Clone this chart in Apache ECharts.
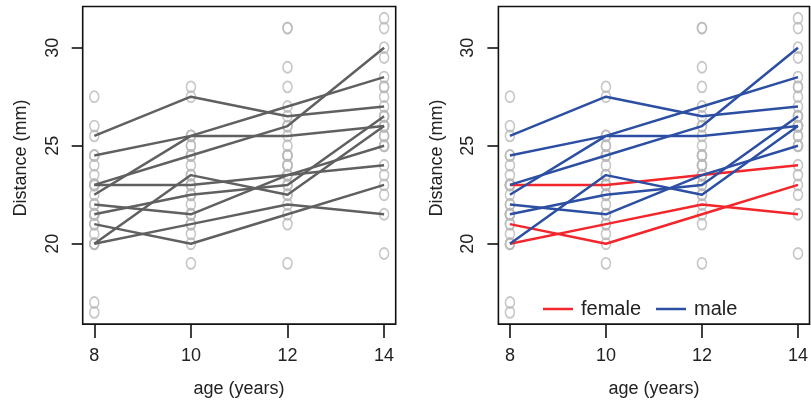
<!DOCTYPE html>
<html>
<head>
<meta charset="utf-8">
<script src="https://cdn.jsdelivr.net/npm/echarts@6/dist/echarts.min.js"></script>
<style>
  html, body { margin: 0; padding: 0; background: #fff; }
  #chart { width: 811px; height: 408px; }
</style>
</head>
<body>
<div id="chart"></div>
<script>
// Orthodont growth data: distance (mm) from pituitary to pterygomaxillary fissure
const ages = [8, 10, 12, 14];
const ageTicks = [8, 10, 12, 14];
const distanceTicks = [20, 25, 30];

const maleIds = ['M01','M02','M03','M04','M05','M06','M07','M08',
                 'M09','M10','M11','M12','M13','M14','M15','M16'];
const maleDistance = [
  [26, 25, 29, 31], [21.5, 22.5, 23, 26.5], [23, 22.5, 24, 27.5], [25.5, 27.5, 26.5, 27],
  [20, 23.5, 22.5, 26], [24.5, 25.5, 27, 28.5], [22, 22, 24.5, 26.5], [24, 21.5, 24.5, 25.5],
  [23, 20.5, 31, 26], [27.5, 28, 31, 31.5], [23, 23, 23.5, 25], [21.5, 23.5, 24, 28],
  [17, 24.5, 26, 29.5], [22.5, 25.5, 25.5, 26], [23, 24.5, 26, 30], [22, 21.5, 23.5, 25]
];

const femaleIds = ['F01','F02','F03','F04','F05','F06','F07','F08','F09','F10','F11'];
const femaleDistance = [
  [21, 20, 21.5, 23], [21, 21.5, 24, 25.5], [20.5, 24, 24.5, 26], [23.5, 24.5, 25, 26.5],
  [21.5, 23, 22.5, 23.5], [20, 21, 21, 22.5], [21.5, 22.5, 23, 25], [23, 23, 23.5, 24],
  [20, 21, 22, 21.5], [16.5, 19, 19, 19.5], [24.5, 25, 28, 28]
];

// subjects whose growth curves are traced
const tracedMale = ['M04', 'M06', 'M15', 'M14', 'M16', 'M02', 'M05'];
const tracedFemale = ['F08', 'F01', 'F09'];

const sexLabels = ['female', 'male'];
const sexColors = { female: '#f2262b', male: '#2c4fa3' };
const plainLineColor = '#606060';
const pointColor = '#b9b9b9';

const ellipsePath = 'path://M1,0A1,1 0 1,1 -1,0A1,1 0 1,1 1,0Z';

function pairs(values) {
  return ages.map((a, i) => [a, values[i]]);
}

const allPoints = [];
maleDistance.concat(femaleDistance).forEach(v => pairs(v).forEach(p => allPoints.push(p)));

function lookup(id) {
  let k = maleIds.indexOf(id);
  if (k >= 0) return { sex: 'male', values: maleDistance[k] };
  k = femaleIds.indexOf(id);
  return { sex: 'female', values: femaleDistance[k] };
}

const traced = tracedFemale.concat(tracedMale).map(lookup);

const font = 'Liberation Sans, Arial, Helvetica, sans-serif';
const grids = [
  { left: 82.7, top: 6.5, width: 313, height: 317.6 },
  { left: 498.4, top: 6.5, width: 311.6, height: 317.6 }
].map(g => Object.assign({ show: true, borderColor: '#111', borderWidth: 1.6, backgroundColor: 'transparent' }, g));

function xAxis(i) {
  return {
    type: 'value', gridIndex: i, min: 7.76, max: 14.24,
    splitLine: { show: false },
    axisLine: { show: false },
    axisTick: { show: true, customValues: ageTicks, length: 14, lineStyle: { color: '#111', width: 1.6 } },
    axisLabel: { customValues: ageTicks, margin: 23, fontSize: 18, fontFamily: font, color: '#222' }
  };
}
function yAxis(i) {
  return {
    type: 'value', gridIndex: i, min: 15.9, max: 32.1,
    splitLine: { show: false },
    axisLine: { show: false },
    axisTick: { show: true, customValues: distanceTicks, length: 11, lineStyle: { color: '#111', width: 1.6 } },
    axisLabel: { customValues: distanceTicks, rotate: 90, margin: 21, fontSize: 18, fontFamily: font, color: '#222' }
  };
}

const series = [];
[0, 1].forEach(i => {
  series.push({
    type: 'scatter', xAxisIndex: i, yAxisIndex: i, z: 1,
    symbol: ellipsePath, symbolSize: [9, 11],
    itemStyle: { color: 'rgba(0,0,0,0)', borderColor: pointColor, borderWidth: 1.7 },
    emphasis: { disabled: true }, silent: true,
    data: allPoints
  });
});
traced.forEach(s => {
  series.push({
    type: 'line', xAxisIndex: 0, yAxisIndex: 0, z: 3, showSymbol: false, symbol: 'none',
    lineStyle: { color: plainLineColor, width: 2.5 }, silent: true,
    data: pairs(s.values)
  });
});
traced.forEach(s => {
  series.push({
    name: s.sex, type: 'line', xAxisIndex: 1, yAxisIndex: 1, z: 3, showSymbol: false, symbol: 'none',
    color: sexColors[s.sex], itemStyle: { color: sexColors[s.sex] },
    lineStyle: { color: sexColors[s.sex], width: 2.5 }, silent: true,
    data: pairs(s.values)
  });
});

const titleStyle = { fontSize: 18, fontFamily: font, fill: '#222', textAlign: 'center', textVerticalAlign: 'middle' };
const graphic = [
  { type: 'text', x: 239, y: 389, style: Object.assign({ text: 'age (years)' }, titleStyle) },
  { type: 'text', x: 654, y: 389, style: Object.assign({ text: 'age (years)' }, titleStyle) },
  { type: 'text', x: 21, y: 158, rotation: Math.PI / 2, style: Object.assign({ text: 'Distance (mm)' }, titleStyle) },
  { type: 'text', x: 437, y: 158, rotation: Math.PI / 2, style: Object.assign({ text: 'Distance (mm)' }, titleStyle) }
];

const chart = echarts.init(document.getElementById('chart'), null, { renderer: 'canvas' });
chart.setOption({
  animation: false,
  backgroundColor: '#fff',
  grid: grids,
  xAxis: [xAxis(0), xAxis(1)],
  yAxis: [yAxis(0), yAxis(1)],
  legend: {
    data: sexLabels, left: 543, top: 299, padding: 0, icon: 'rect',
    itemWidth: 30, itemHeight: 2.5, itemGap: 15, selectedMode: false,
    textStyle: { fontSize: 20, fontFamily: font, color: '#222', padding: [0, 0, 0, 3] }
  },
  graphic: graphic,
  series: series
});
</script>
</body>
</html>
